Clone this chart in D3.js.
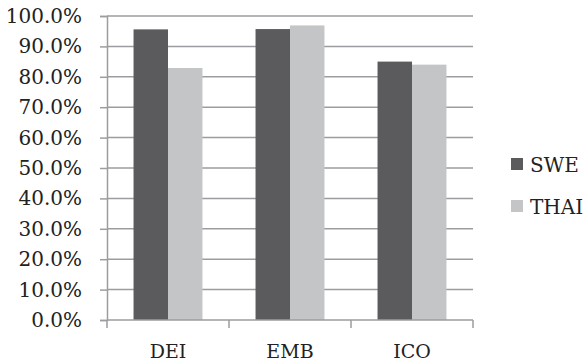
<!DOCTYPE html>
<html>
<head>
<meta charset="utf-8">
<script src="https://cdn.jsdelivr.net/npm/d3@7"></script>
<style>
  html, body { margin: 0; padding: 0; background: #fff; }
  svg { display: block; }
  text { font-family: "DejaVu Serif", serif; fill: #222; }
</style>
</head>
<body>
<svg id="chart" width="584" height="364"></svg>
<script>
const categories = ["DEI", "EMB", "ICO"];
const seriesNames = ["SWE", "THAI"];
const sweValues = [0.956, 0.957, 0.850];
const thaiValues = [0.829, 0.969, 0.840];
const yTicks = [0, 0.1, 0.2, 0.3, 0.4, 0.5, 0.6, 0.7, 0.8, 0.9, 1.0];
const colors = { SWE: "#5b5b5d", THAI: "#c4c5c7" };

const svg = d3.select("#chart");
const margin = { left: 107, right: 111, top: 16, bottom: 44 };
const width = 584 - margin.left - margin.right;
const height = 364 - margin.top - margin.bottom;

const g = svg.append("g").attr("transform", `translate(${margin.left},${margin.top})`);

const x0 = d3.scaleBand().domain(categories).range([0, width]);
const x1 = d3.scaleBand().domain(seriesNames).range([0, x0.bandwidth()]).paddingInner(0).paddingOuter(0.77);
const y = d3.scaleLinear().domain([0, 1]).range([height, 0]);

// horizontal gridlines
g.append("g")
  .selectAll("line")
  .data(yTicks.slice(1))
  .join("line")
  .attr("x1", 0).attr("x2", width)
  .attr("y1", d => y(d)).attr("y2", d => y(d))
  .attr("stroke", "#9d9da1").attr("stroke-width", 1.5);

// bars
const rows = categories.map((c, i) => ({ cat: c, SWE: sweValues[i], THAI: thaiValues[i] }));
g.append("g")
  .selectAll("g")
  .data(rows)
  .join("g")
  .attr("transform", d => `translate(${x0(d.cat)},0)`)
  .selectAll("rect")
  .data(d => seriesNames.map(s => ({ s, v: d[s] })))
  .join("rect")
  .attr("x", d => x1(d.s))
  .attr("width", x1.bandwidth())
  .attr("y", d => y(d.v))
  .attr("height", d => height - y(d.v))
  .attr("fill", d => colors[d.s]);

// y axis
const yAxis = g.append("g")
  .call(d3.axisLeft(y).tickValues(yTicks).tickFormat(d3.format(".1%")).tickSize(7).tickPadding(18));
yAxis.select(".domain").attr("stroke", "#9d9da1").attr("stroke-width", 1.5);
yAxis.selectAll(".tick line").attr("stroke", "#9d9da1").attr("stroke-width", 1.5);
yAxis.selectAll("text").attr("font-size", 20).attr("font-family", "DejaVu Serif").attr("fill", "#222");

// x axis with boundary tick marks
const xg = g.append("g").attr("transform", `translate(0,${height})`);
xg.append("line").attr("x1", 0).attr("x2", width).attr("stroke", "#9d9da1").attr("stroke-width", 1.5);
xg.selectAll("line.tk")
  .data(categories.map(c => x0(c)).concat([width]))
  .join("line")
  .attr("class", "tk")
  .attr("x1", d => d).attr("x2", d => d)
  .attr("y1", 0).attr("y2", 8)
  .attr("stroke", "#9d9da1").attr("stroke-width", 1.5);
xg.selectAll("text")
  .data(categories)
  .join("text")
  .attr("x", d => x0(d) + x0.bandwidth() / 2)
  .attr("y", 38)
  .attr("text-anchor", "middle")
  .attr("font-size", 19)
  .text(d => d);

// legend
const legend = svg.append("g").attr("transform", "translate(511,158)");
seriesNames.forEach((s, i) => {
  const row = legend.append("g").attr("transform", `translate(0,${i * 42})`);
  row.append("rect").attr("width", 12).attr("height", 12).attr("fill", colors[s]);
  row.append("text").attr("x", 19).attr("y", 13.5).attr("font-size", 20).text(s);
});
</script>
</body>
</html>
